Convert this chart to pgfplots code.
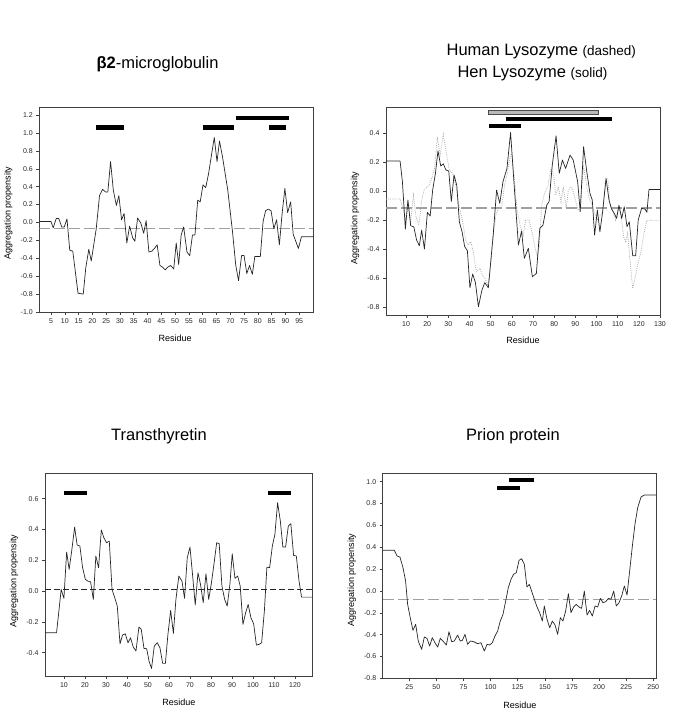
\documentclass[border=0pt]{standalone}
\usepackage{fontspec}
\setmainfont{Liberation Sans}
\usepackage{pgfplots}
\pgfplotsset{compat=1.18}
\pgfplotsset{
  panel/.style={
    scale only axis, anchor=south west,
    axis line style={black!75, line width=0.6pt},
    tick align=outside, xtick pos=bottom, ytick pos=left,
    major tick length=3pt,
    tick style={black!75, line width=0.5pt},
    tick label style={font=\fontsize{7}{8}\selectfont, text=black!85},
    /pgf/number format/assume math mode=true,
    yticklabel style={/pgf/number format/.cd, fixed, fixed zerofill, precision=1, assume math mode=true},
    label style={font=\fontsize{9}{10}\selectfont},
    xlabel={Residue}, ylabel={Aggregation propensity},
  },
  curve/.style={black!85, line width=0.7pt, line join=round},
  hline/.style={gray!75, line width=1.1pt, dash pattern=on 11pt off 4pt},
  bar/.style={black, line width=4.3pt},
}
\begin{document}
\begin{tikzpicture}
\useasboundingbox (0,0) rectangle (685pt,714pt);

% ---------------- beta2-microglobulin
\begin{axis}[panel, at={(39.3pt,402pt)}, width=273.7pt, height=205pt,
  xmin=0.76, xmax=100, ymin=-1.0, ymax=1.29,
  xtick={5,10,...,95}, ytick={-1.0,-0.8,-0.6,-0.4,-0.2,0,0.2,0.4,0.6,0.8,1.0,1.2},
  x label style={at={(axis description cs:0.496,-0.127)}, anchor=center},
  y label style={at={(axis description cs:-0.113,0.483)}, anchor=center}]
\addplot[hline] coordinates {(0.76,-0.07) (100,-0.07)};
\addplot[curve] coordinates {
(0.76,0.01) (5,0.01) (5.8,-0.06) (6.9,0.045) (7.8,0.045) (8.9,-0.05) (9.8,-0.05) (10.8,0.04)
(11.8,-0.31) (12.9,-0.32) (14.8,-0.79) (16.7,-0.80) (17.6,-0.51) (18.7,-0.30) (19.6,-0.43)
(21.4,-0.07) (22.6,0.30) (23.7,0.37) (24.8,0.34) (25.6,0.34) (26.6,0.68) (27.6,0.36) (28.7,0.19)
(29.6,0.30) (30.6,0.03) (31.5,0.10) (32.5,-0.23) (33.5,-0.04) (34.6,-0.17) (35.4,-0.21) (36.4,0.05)
(37.6,-0.01) (38.6,-0.12) (39.5,0.02) (40.5,-0.33) (41.6,-0.32) (42.5,-0.29) (43.5,-0.25)
(44.5,-0.48) (45.5,-0.50) (46.4,-0.53) (47.3,-0.50) (48.4,-0.48) (49.5,-0.52) (50.4,-0.23)
(51.3,-0.47) (52.2,-0.14) (53.1,-0.05) (54.3,-0.33) (55.3,-0.37) (56.3,-0.14) (57.2,-0.14)
(58.2,0.25) (59.1,0.23) (60.1,0.42) (61.1,0.39) (62.1,0.54) (64.2,0.95) (65.2,0.68) (66.1,0.91)
(67.2,0.73) (69.1,0.36) (70.8,-0.10) (72.0,-0.48) (73.0,-0.65) (74.1,-0.37) (75.0,-0.37)
(76.0,-0.57) (77.0,-0.48) (78.0,-0.58) (78.9,-0.38) (80.9,-0.38) (81.9,0.01) (82.8,0.13)
(83.8,0.15) (84.8,0.13) (85.8,-0.07) (86.8,0.03) (87.8,-0.25) (88.8,0.10) (89.8,0.38)
(90.8,0.11) (91.9,0.23) (92.8,-0.13) (94.7,-0.29) (95.8,-0.16) (100,-0.16)};
\addplot[bar] coordinates {(21.3,1.06) (31.5,1.06)};
\addplot[bar] coordinates {(60.0,1.06) (71.3,1.06)};
\addplot[bar] coordinates {(72.0,1.17) (91.4,1.17)};
\addplot[bar] coordinates {(83.9,1.06) (90.2,1.06)};
\end{axis}

% ---------------- Lysozyme
\begin{axis}[panel, at={(386pt,399pt)}, width=274pt, height=207.7pt,
  xmin=0.55, xmax=130, ymin=-0.853, ymax=0.58,
  xtick={10,20,...,130}, ytick={-0.8,-0.6,-0.4,-0.2,0,0.2,0.4},
  x label style={at={(axis description cs:0.5,-0.12)}, anchor=center},
  y label style={at={(axis description cs:-0.113,0.467)}, anchor=center}]
\addplot[hline] coordinates {(0.55,-0.115) (130,-0.115)};
\addplot[gray!65, line width=0.75pt, dash pattern=on 0.9pt off 1.2pt] coordinates {
(0.55,-0.053) (7.2,-0.053) (8.4,-0.106) (9.8,-0.198) (11.1,-0.095) (12.2,-0.21) (13.5,-0.026)
(14.7,-0.175) (16.1,-0.233) (17.3,-0.072) (18.5,0.009) (20.9,0.043) (22.4,0.1) (23.5,0.158)
(24.8,0.377) (26.1,0.25) (27.6,0.393) (29.2,0.25) (30.5,0.147) (32.0,0.124) (33.5,0.043)
(35.0,-0.095) (36.6,-0.198) (38.2,-0.336) (39.5,-0.37) (40.6,-0.347) (41.8,-0.416) (43.2,-0.554)
(45,-0.531) (46.1,-0.577) (47.3,-0.6) (48.6,-0.646) (49.5,-0.577) (50.5,-0.416) (51.4,-0.279)
(52.5,-0.164) (53.6,-0.118) (55.2,-0.118) (56.5,0.043) (57.7,0.112) (59,0.227) (59.9,0.262)
(61.2,0.089) (62.4,-0.118) (63.9,-0.233) (65.4,-0.302) (66.5,-0.198) (68.1,-0.198) (69.7,-0.29)
(71,-0.393) (72.1,-0.451) (73,-0.37) (74.1,-0.095) (75.4,-0.014) (76.9,0.032) (78.5,0.158)
(79.8,0.112) (80.7,-0.026) (82,0.032) (83.2,-0.072) (84.3,0.032) (85.7,-0.118) (86.6,0.0)
(87.6,0.03) (88.6,0.02) (89.8,-0.05) (91.1,-0.118) (92.3,-0.14) (93.8,0.181) (96.1,-0.026)
(99,-0.14) (100.2,-0.198) (101.6,-0.17) (102.9,-0.14) (104.3,0.078) (105.3,0.089) (106.4,-0.095)
(107.6,-0.13) (109,-0.198) (110.3,-0.118) (111.6,-0.16) (112.8,-0.313) (113.8,-0.347)
(114.7,-0.29) (116,-0.51) (117.1,-0.669) (118.2,-0.6) (119.4,-0.51) (121,-0.416) (122.3,-0.302)
(123.7,-0.2) (130,-0.2)};
\addplot[curve] coordinates {
(0.55,0.209) (7.2,0.209) (8.3,0.067) (9.7,-0.26) (10.9,-0.06) (12.2,-0.237) (13.7,-0.245)
(15.0,-0.336) (16.3,-0.375) (17.4,-0.267) (18.7,-0.398) (20.1,-0.145) (21.4,-0.17) (22.6,0.009)
(23.9,0.124) (25.1,0.28) (26.4,0.175) (27.6,0.19) (28.9,0.147) (30.2,0.14) (31.4,-0.07)
(32.7,0.113) (34,0.04) (35.2,-0.21) (36.5,-0.28) (37.7,-0.38) (39,-0.41) (40.2,-0.665)
(41.5,-0.57) (42.8,-0.63) (44.2,-0.796) (45.9,-0.68) (47.2,-0.63) (48.9,-0.665) (51.2,-0.3)
(52.8,0.009) (54.3,-0.083) (55.8,0.066) (57.7,0.158) (59.4,0.406) (61.2,0.02) (63.1,-0.37)
(64.6,-0.274) (65.9,-0.462) (67.8,-0.393) (69.7,-0.589) (71.6,-0.566) (73.2,-0.256) (74.7,-0.233)
(76.5,-0.095) (77.6,-0.07) (79.1,0.181) (80.9,0.383) (82.4,0.124) (83.9,0.216) (85.4,0.158)
(87.5,0.25) (89,0.216) (91.1,0.066) (92.3,-0.14) (93.9,0.308) (95.3,0.147) (96.9,-0.014)
(98,-0.06) (99.1,-0.302) (100.4,-0.129) (101.6,-0.279) (102.9,-0.14) (104.5,0.089) (105.9,-0.06)
(107.1,-0.122) (108.4,-0.152) (109.5,-0.187) (110.6,-0.095) (111.9,-0.187) (113.1,-0.106)
(114.4,-0.244) (115.5,-0.21) (117.1,-0.444) (118.5,-0.444) (119.7,-0.198) (121.3,-0.118)
(122.9,-0.122) (123.8,-0.145) (124.8,0.013) (130,0.013)};
\addplot[fill=gray!55, draw=black!70, line width=0.5pt] coordinates {(48.9,0.532) (100.9,0.532) (100.9,0.562) (48.9,0.562)} -- cycle;
\addplot[bar] coordinates {(57.2,0.499) (107.2,0.499)};
\addplot[bar] coordinates {(49.2,0.45) (64.2,0.45)};
\end{axis}

% ---------------- Transthyretin
\begin{axis}[panel, at={(45pt,38pt)}, width=267.7pt, height=202.7pt,
  xmin=1, xmax=128.4, ymin=-0.551, ymax=0.765,
  xtick={10,20,...,120}, ytick={-0.4,-0.2,0,0.2,0.4,0.6},
  x label style={at={(axis description cs:0.5,-0.132)}, anchor=center},
  y label style={at={(axis description cs:-0.116,0.469)}, anchor=center}]
\addplot[black!85, line width=0.9pt, dash pattern=on 6pt off 3pt] coordinates {(1,0.011) (128.4,0.011)};
\addplot[curve] coordinates {
(1,-0.27) (6.5,-0.27) (7.6,-0.13) (8.7,0.011) (10,-0.047) (11.3,0.254) (12.5,0.141) (13.8,0.271)
(15.1,0.416) (16.3,0.299) (17.6,0.293) (18.9,0.152) (20.2,0.076) (21.4,0.065) (22.7,0.06)
(24,-0.054) (25.2,0.228) (26.5,0.152) (27.8,0.397) (29,0.347) (30.3,0.314) (31.6,0.325)
(32.9,0.011) (34.1,-0.039) (35.4,-0.097) (36.7,-0.342) (37.9,-0.285) (39.2,-0.277) (40.5,-0.335)
(41.7,-0.303) (43,-0.363) (44.3,-0.389) (45.7,-0.233) (46.8,-0.248) (48.1,-0.372) (49.4,-0.374)
(50.5,-0.454) (51.7,-0.502) (53,-0.357) (54.4,-0.335) (55.7,-0.368) (57,-0.469) (58.3,-0.469)
(59.5,-0.281) (60.8,-0.125) (62.1,-0.275) (63.3,-0.054) (64.7,0.098) (66.2,0.065) (67.4,-0.047)
(68.7,0.217) (70,0.286) (71.2,0.109) (72.5,-0.09) (73.8,0.119) (75,0.044) (76.3,-0.075)
(77.6,0.113) (78.9,-0.054) (80.1,0.044) (81.4,0.174) (82.7,0.314) (83.9,0.308) (85.2,0.033)
(86.5,-0.054) (87.7,-0.097) (89,0.044) (90.1,0.243) (91.4,0.083) (92.7,0.098) (93.9,0.033)
(95.2,-0.216) (96.5,-0.14) (97.7,-0.086) (99,-0.173) (100.3,-0.212) (101.6,-0.35) (102.8,-0.346)
(104.1,-0.335) (105.4,-0.129) (106.6,0.156) (107.9,0.152) (109.2,0.293) (110.4,0.368)
(111.7,0.574) (113,0.455) (114.2,0.286) (115.5,0.286) (116.8,0.423) (118,0.438) (119.3,0.232)
(120.6,0.228) (121.9,0.065) (123.1,-0.039) (128.4,-0.039)};
\addplot[bar] coordinates {(10.2,0.635) (20.8,0.635)};
\addplot[bar] coordinates {(107.0,0.635) (118.1,0.635)};
\end{axis}

% ---------------- Prion protein
\begin{axis}[panel, at={(382.7pt,35.7pt)}, width=273.3pt, height=205pt,
  xmin=0.5, xmax=252.5, ymin=-0.8, ymax=1.077,
  xtick={25,50,...,250}, ytick={-0.8,-0.6,-0.4,-0.2,0,0.2,0.4,0.6,0.8,1.0},
  x label style={at={(axis description cs:0.502,-0.134)}, anchor=center},
  y label style={at={(axis description cs:-0.113,0.48)}, anchor=center}]
\addplot[hline] coordinates {(0.5,-0.082) (252.5,-0.082)};
\addplot[curve] coordinates {
(0.5,0.372) (11.2,0.372) (13.7,0.32) (16.4,0.31) (19.2,0.213) (21.6,0.091) (23.5,-0.123)
(25.9,-0.245) (28.4,-0.361) (30.9,-0.306) (33.3,-0.459) (36.4,-0.535) (38.9,-0.422) (41.3,-0.434)
(43.8,-0.505) (46.2,-0.428) (48.7,-0.474) (51.2,-0.514) (53.6,-0.434) (56.1,-0.459) (59.2,-0.495)
(61.6,-0.373) (64.1,-0.465) (66.5,-0.459) (69.6,-0.404) (72,-0.459) (73.9,-0.453) (76.4,-0.398)
(78.8,-0.489) (81.3,-0.459) (84.4,-0.465) (88,-0.483) (91.1,-0.474) (94.2,-0.55) (96.7,-0.489)
(99.1,-0.495) (101.6,-0.474) (104,-0.413) (106.5,-0.367) (108.9,-0.276) (111.4,-0.215)
(113.9,-0.092) (116.3,0.03) (118.8,0.106) (121.2,0.152) (123.7,0.167) (126.2,0.28) (128.6,0.295)
(131.1,0.243) (133.5,0.036) (135.7,0.06) (137.8,-0.001) (140.3,-0.077) (142.8,-0.147)
(145.2,-0.199) (147.7,-0.276) (149.5,-0.138) (152,-0.26) (154.5,-0.337) (156.9,-0.276)
(159.4,-0.312) (161.8,-0.398) (164.3,-0.245) (166.7,-0.276) (169.2,-0.184) (171.7,-0.025)
(174.1,-0.199) (176.6,-0.147) (179,-0.123) (181.5,-0.147) (183.9,-0.16) (186.4,-0.001)
(188.9,-0.221) (191.3,-0.178) (193.8,-0.23) (196.3,-0.138) (198.7,-0.147) (201.2,-0.068)
(203.6,-0.108) (206.1,-0.099) (208.6,-0.068) (211,-0.077) (213.5,-0.001) (215.9,-0.138)
(218.4,-0.108) (220.8,-0.047) (223.3,0.045) (225.8,-0.037) (228.2,0.182) (230.7,0.411)
(233.1,0.61) (235.6,0.762) (238.7,0.86) (241.8,0.878) (252.5,0.878)};
\addplot[bar] coordinates {(117.2,1.018) (140.3,1.018)};
\addplot[bar] coordinates {(106.2,0.945) (127.4,0.945)};
\end{axis}

% ---------------- titles
\node[anchor=base, font=\fontsize{16.5}{20}\selectfont] at (157.5pt,645.7pt) {\textbf{β2}-microglobulin};
\node[anchor=base, font=\fontsize{16.5}{20}\selectfont] at (541.3pt,658pt) {Human Lysozyme {\fontsize{13.5}{16}\selectfont(dashed)}};
\node[anchor=base, font=\fontsize{16.5}{20}\selectfont] at (532.5pt,636.7pt) {Hen Lysozyme {\fontsize{13.5}{16}\selectfont(solid)}};
\node[anchor=base, font=\fontsize{16.5}{20}\selectfont] at (159pt,273pt) {Transthyretin};
\node[anchor=base, font=\fontsize{16.5}{20}\selectfont] at (513pt,273pt) {Prion protein};
\end{tikzpicture}
\end{document}
